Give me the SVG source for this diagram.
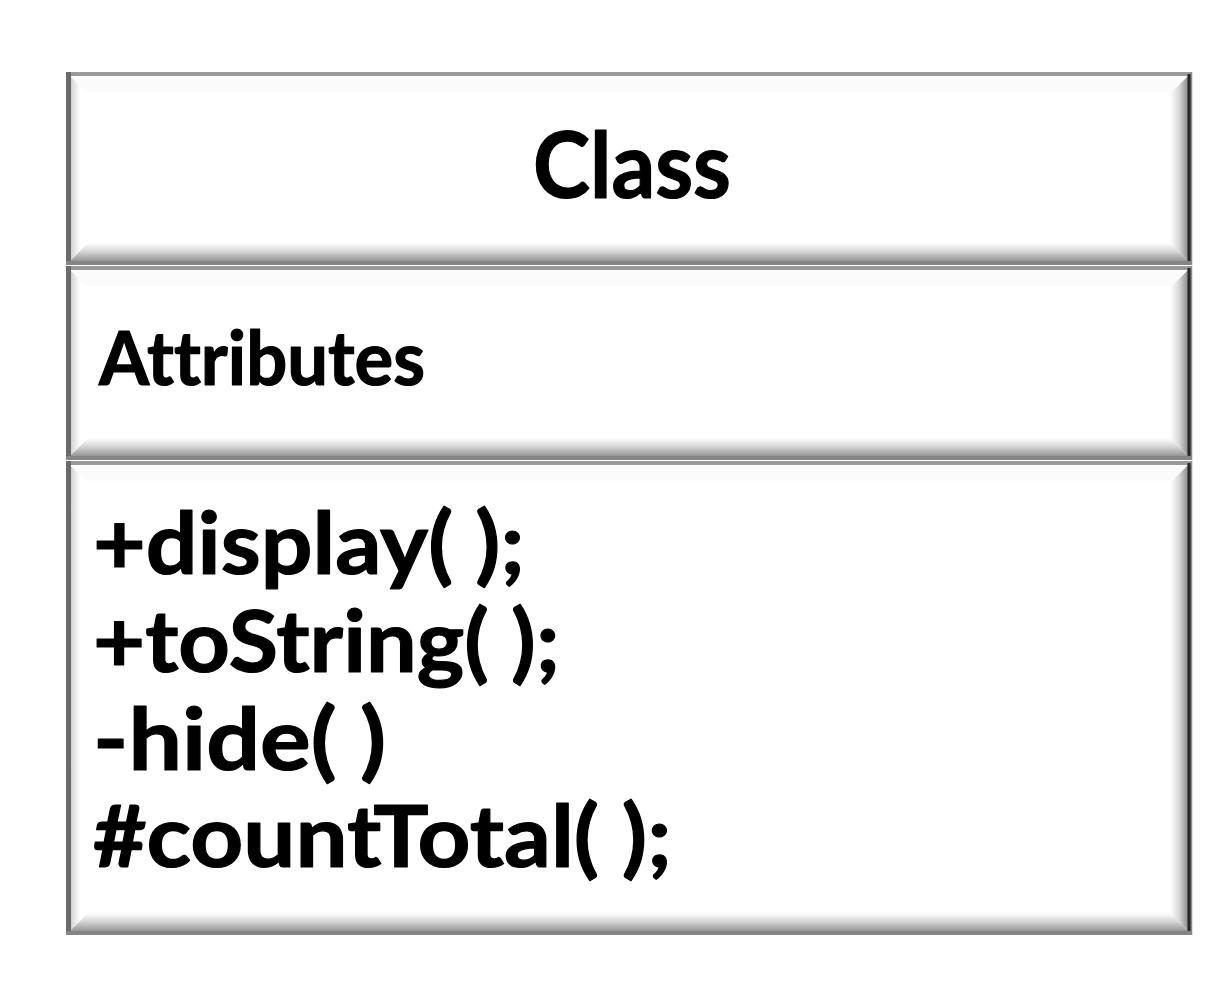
<svg xmlns="http://www.w3.org/2000/svg" width="1228" height="1000" viewBox="0 0 1228 1000">
  <style>
    .face { fill: #ffffff; }
    .top { fill: #fbfbfb; }
    .left { fill: url(#gLeft); }
    .right { fill: url(#gRight); }
    .bottom { fill: url(#gBottom); }
    .bTop { stroke: #9a9a9a; stroke-width: 4; }
    .bLeft { stroke: #6a6a6a; stroke-width: 5; }
    .bRight { stroke: #262626; stroke-width: 3; }
    .bRightOuter { stroke: #8a8a8a; stroke-width: 1.5; }
    .bBottom { stroke: #858585; stroke-width: 4; }
    .txt { font-family: "Lato", "Liberation Sans", sans-serif; font-weight: 700; fill: #000000; stroke: #000000; stroke-width: 1.2; stroke-linejoin: round; font-variant-ligatures: none; font-feature-settings: "liga" 0, "clig" 0; }
  </style>
  <defs>
    <linearGradient id="gLeft" x1="0" y1="0" x2="1" y2="0">
      <stop offset="0" stop-color="#a0a0a0"/>
      <stop offset="0.35" stop-color="#dadada"/>
      <stop offset="0.8" stop-color="#ffffff"/>
    </linearGradient>
    <linearGradient id="gRight" x1="0" y1="0" x2="1" y2="0">
      <stop offset="0" stop-color="#ffffff"/>
      <stop offset="0.4" stop-color="#dadada"/>
      <stop offset="1" stop-color="#6c6c6c"/>
    </linearGradient>
    <linearGradient id="gBottom" x1="0" y1="0" x2="0" y2="1">
      <stop offset="0" stop-color="#ffffff"/>
      <stop offset="0.4" stop-color="#d4d4d4"/>
      <stop offset="1" stop-color="#7c7c7c"/>
    </linearGradient>
  </defs>
  <rect x="0" y="0" width="1228" height="1000" fill="#ffffff"/>

  <g id="class-name">
    <rect class="face" x="66" y="72" width="1126" height="193"/>
    <polygon class="top" points="66,72 1192,72 1172,92 86,92"/>
    <polygon class="left" points="66,72 84,90 84,247 66,265"/>
    <polygon class="right" points="1192,72 1192,265 1170,243 1170,94"/>
    <polygon class="bottom" points="66,265 1192,265 1170,243 88,243"/>
    <line class="bTop" x1="66" y1="74" x2="1192" y2="74"/>
    <line class="bLeft" x1="68.5" y1="72" x2="68.5" y2="265"/>
    <line class="bRightOuter" x1="1191.5" y1="72" x2="1191.5" y2="265"/>
    <line class="bRight" x1="1189" y1="74" x2="1189" y2="265"/>
    <line class="bBottom" x1="66" y1="263" x2="1192" y2="263"/>
    <text class="txt" x="533" y="198" font-size="92" textLength="198" lengthAdjust="spacingAndGlyphs">Class</text>
  </g>

  <g id="attributes">
    <rect class="face" x="66" y="266" width="1126" height="194"/>
    <polygon class="top" points="66,266 1192,266 1172,286 86,286"/>
    <polygon class="left" points="66,266 84,284 84,442 66,460"/>
    <polygon class="right" points="1192,266 1192,460 1170,438 1170,288"/>
    <polygon class="bottom" points="66,460 1192,460 1170,438 88,438"/>
    <line class="bTop" x1="66" y1="268" x2="1192" y2="268"/>
    <line class="bLeft" x1="68.5" y1="266" x2="68.5" y2="460"/>
    <line class="bRightOuter" x1="1191.5" y1="266" x2="1191.5" y2="460"/>
    <line class="bRight" x1="1189" y1="268" x2="1189" y2="460"/>
    <line class="bBottom" x1="66" y1="458" x2="1192" y2="458"/>
    <text class="txt" x="99" y="385" font-size="74" textLength="326" lengthAdjust="spacingAndGlyphs">Attributes</text>
  </g>

  <g id="methods">
    <rect class="face" x="66" y="461" width="1126" height="474"/>
    <polygon class="top" points="66,461 1192,461 1172,481 86,481"/>
    <polygon class="left" points="66,461 84,479 84,917 66,935"/>
    <polygon class="right" points="1192,461 1192,935 1170,913 1170,483"/>
    <polygon class="bottom" points="66,935 1192,935 1170,913 88,913"/>
    <line class="bTop" x1="66" y1="463" x2="1192" y2="463"/>
    <line class="bLeft" x1="68.5" y1="461" x2="68.5" y2="935"/>
    <line class="bRightOuter" x1="1191.5" y1="461" x2="1191.5" y2="935"/>
    <line class="bRight" x1="1189" y1="463" x2="1189" y2="935"/>
    <line class="bBottom" x1="66" y1="933" x2="1192" y2="933"/>
    <text class="txt" x="93" y="574" font-size="87" textLength="432" lengthAdjust="spacingAndGlyphs">+display( );</text>
    <text class="txt" x="93" y="672" font-size="87" textLength="467" lengthAdjust="spacingAndGlyphs">+toString( );</text>
    <text class="txt" x="93" y="770" font-size="87" textLength="293" lengthAdjust="spacingAndGlyphs">-hide( )</text>
    <text class="txt" x="93" y="867" font-size="87" textLength="579" lengthAdjust="spacingAndGlyphs">#countTotal( );</text>
  </g>
</svg>
